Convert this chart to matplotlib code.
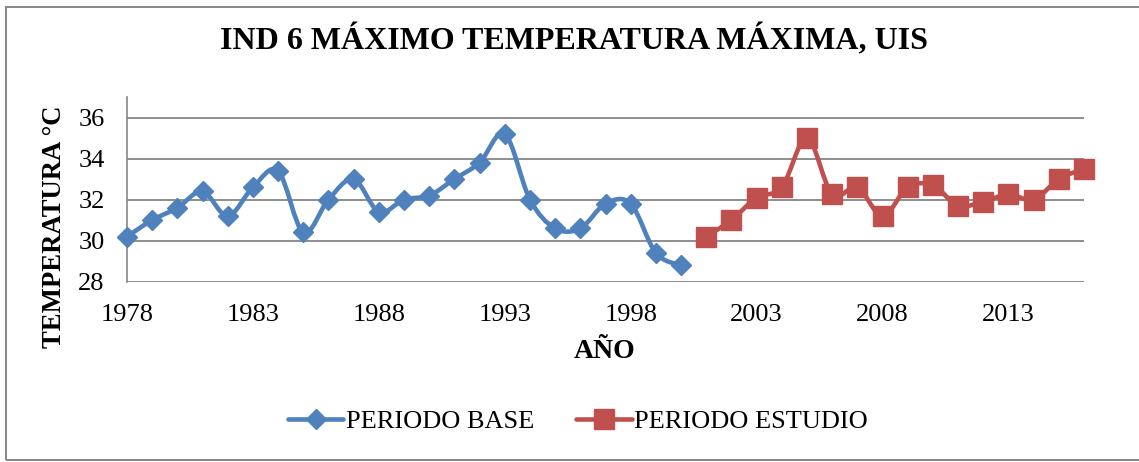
import matplotlib
matplotlib.use("Agg")
import matplotlib.pyplot as plt
from matplotlib.path import Path
from matplotlib.patches import PathPatch, Rectangle
from matplotlib.lines import Line2D
import numpy as np

plt.rcParams['font.family'] = ['Liberation Serif', 'DejaVu Serif']

years_base = list(range(1978, 2001))
temp_base = [30.2, 31.0, 31.6, 32.4, 31.2, 32.6, 33.4, 30.4, 32.0, 33.0, 31.4, 32.0,
             32.2, 33.0, 33.8, 35.2, 32.0, 30.6, 30.6, 31.8, 31.8, 29.4, 28.8]
years_study = list(range(2001, 2017))
temp_study = [30.2, 31.0, 32.1, 32.6, 35.0, 32.25, 32.6, 31.2, 32.6, 32.7, 31.7, 31.9,
              32.25, 32.0, 33.0, 33.5]
xticks = [1978, 1983, 1988, 1993, 1998, 2003, 2008, 2013]
yticks = [28, 30, 32, 34, 36]

title = "IND 6 MÁXIMO TEMPERATURA MÁXIMA, UIS"
xlabel = "AÑO"
ylabel = "TEMPERATURA °C"
labels = ["PERIODO BASE", "PERIODO ESTUDIO"]
BLUE = "#4F81BD"
RED = "#C0504D"


def smooth_path(x, y):
    x = np.asarray(x, float)
    y = np.asarray(y, float)
    n = len(x)
    verts = [(x[0], y[0])]
    codes = [Path.MOVETO]
    for i in range(n - 1):
        i0 = max(i - 1, 0)
        i3 = min(i + 2, n - 1)
        c1 = (x[i] + (x[i + 1] - x[i0]) / 6, y[i] + (y[i + 1] - y[i0]) / 6)
        c2 = (x[i + 1] - (x[i3] - x[i]) / 6, y[i + 1] - (y[i3] - y[i]) / 6)
        verts += [c1, c2, (x[i + 1], y[i + 1])]
        codes += [Path.CURVE4] * 3
    return Path(verts, codes)


fig = plt.figure(figsize=(11.39, 4.62), dpi=100)
fig.patches.append(Rectangle((6 / 1139, 2 / 462), 1.5, 453 / 462, transform=fig.transFigure,
                             fill=False, edgecolor="#868686", linewidth=1.4))

ax = fig.add_axes([127 / 1139, 1 - 281.7 / 462, (1084 - 127) / 1139, (281.7 - 97) / 462])
ax.set_xlim(1978, 2016)
ax.set_ylim(28, 37)
for s in ["top", "right", "bottom"]:
    ax.spines[s].set_visible(False)
ax.spines["left"].set_color("#868686")
ax.spines["left"].set_linewidth(1.2)
for yv in yticks:
    ax.axhline(yv, color="#868686", linewidth=1.3, zorder=1)

ax.set_xticks(xticks)
ax.set_yticks(yticks)
ax.tick_params(axis="both", length=0, labelsize=19)
ax.tick_params(axis="x", pad=16)
ax.tick_params(axis="y", pad=16)

lw = 3.3
MS_D = 10.5
MS_S = 14.4
for xs, ys, c, m, ms in [(years_base, temp_base, BLUE, "D", MS_D),
                         (years_study, temp_study, RED, "s", MS_S)]:
    ax.add_patch(PathPatch(smooth_path(xs, ys), facecolor="none", edgecolor=c,
                           linewidth=lw, zorder=3, capstyle="round", joinstyle="round"))
    ax.plot(xs, ys, linestyle="none", marker=m, markersize=ms, color=c, zorder=4,
            clip_on=False)

fig.text(574 / 1139, 1 - 40 / 462, title, ha="center", va="center",
         fontsize=23, fontweight="bold")
fig.text(55 / 1139, 1 - 227 / 462, ylabel, ha="center", va="center", rotation=90,
         fontsize=19.3, fontweight="bold")
fig.text(605 / 1139, 1 - 352 / 462, xlabel, ha="center", va="center",
         fontsize=20, fontweight="bold")

handles = [Line2D([], [], color=BLUE, linewidth=lw, marker="D", markersize=MS_D,
                  solid_capstyle="round"),
           Line2D([], [], color=RED, linewidth=lw, marker="s", markersize=MS_S,
                  solid_capstyle="round")]
fig.legend(handles, labels, loc="center", bbox_to_anchor=(578 / 1139, 1 - 421 / 462),
           ncol=2, frameon=False, fontsize=19, handlelength=2.1, handletextpad=0.1,
           columnspacing=1.6, borderpad=0, borderaxespad=0)

fig.savefig("out.png", dpi=100)
